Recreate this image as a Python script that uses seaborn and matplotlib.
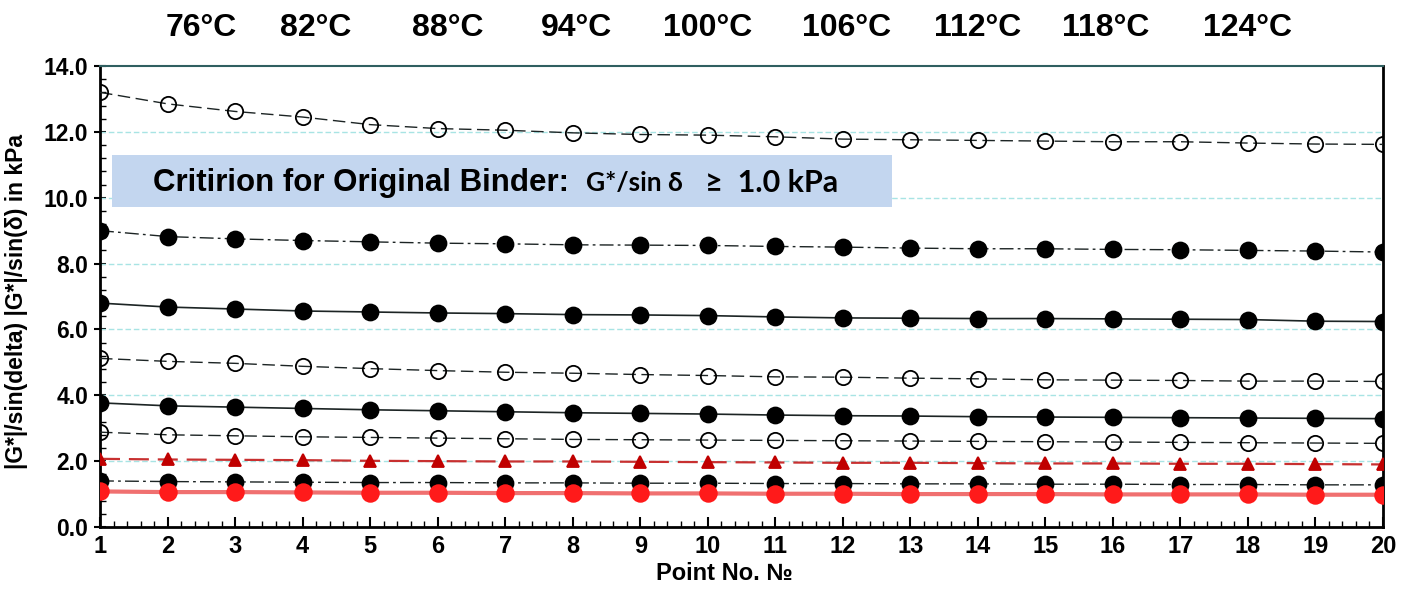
import matplotlib
matplotlib.use('Agg')
import matplotlib.pyplot as plt
from matplotlib.patches import Rectangle
from matplotlib.ticker import MultipleLocator, FormatStrFormatter
import numpy as np
import pandas as pd
import seaborn as sns

# data
points = list(range(1, 21))
s1 = [13.2, 12.85, 12.62, 12.45, 12.22, 12.1, 12.05, 11.97, 11.92, 11.9,
      11.85, 11.78, 11.76, 11.74, 11.72, 11.7, 11.7, 11.66, 11.63, 11.62]
s2 = [9.0, 8.82, 8.75, 8.7, 8.66, 8.62, 8.6, 8.57, 8.56, 8.55,
      8.52, 8.5, 8.47, 8.45, 8.45, 8.43, 8.42, 8.4, 8.38, 8.35]
s3 = [6.8, 6.68, 6.62, 6.56, 6.53, 6.5, 6.48, 6.45, 6.44, 6.42,
      6.38, 6.35, 6.34, 6.33, 6.33, 6.32, 6.31, 6.3, 6.25, 6.24]
s4 = [5.12, 5.03, 4.97, 4.88, 4.81, 4.75, 4.7, 4.67, 4.63, 4.6,
      4.56, 4.55, 4.52, 4.5, 4.47, 4.46, 4.45, 4.43, 4.43, 4.42]
s5 = [3.77, 3.68, 3.64, 3.6, 3.56, 3.53, 3.5, 3.47, 3.45, 3.43,
      3.4, 3.38, 3.37, 3.35, 3.34, 3.33, 3.32, 3.31, 3.3, 3.29]
s6 = [2.88, 2.8, 2.77, 2.74, 2.72, 2.7, 2.68, 2.66, 2.65, 2.64,
      2.63, 2.62, 2.61, 2.6, 2.59, 2.58, 2.57, 2.56, 2.55, 2.54]
s7 = [2.07, 2.05, 2.04, 2.03, 2.01, 2.0, 1.99, 1.99, 1.98, 1.97,
      1.96, 1.95, 1.95, 1.94, 1.93, 1.93, 1.92, 1.92, 1.91, 1.9]
s8 = [1.4, 1.38, 1.37, 1.36, 1.35, 1.35, 1.34, 1.34, 1.33, 1.33,
      1.32, 1.32, 1.31, 1.31, 1.3, 1.3, 1.29, 1.29, 1.28, 1.28]
s9 = [1.08, 1.06, 1.06, 1.05, 1.04, 1.04, 1.03, 1.03, 1.02, 1.02,
      1.01, 1.01, 1.0, 1.0, 1.0, 0.99, 0.99, 0.99, 0.98, 0.98]

temps = ['76°C', '82°C', '88°C', '94°C', '100°C', '106°C', '112°C', '118°C', '124°C']
temp_pos = [2.5, 4.2, 6.15, 8.05, 10.0, 12.05, 14.0, 15.9, 18.0]

sns.set_style('ticks')
plt.rcParams['font.family'] = ['Liberation Sans', 'DejaVu Sans']
plt.rcParams['font.weight'] = 'bold'
for key in ['text.color', 'axes.labelcolor', 'xtick.color', 'ytick.color']:
    plt.rcParams[key] = 'black'

fig = plt.figure(figsize=(14.09, 5.97), dpi=100)
ax = fig.add_axes([100 / 1409, 70 / 597, 1283 / 1409, 461 / 597])

dash = (0, (9, 4))
dashdot = (0, (10, 3, 2, 3))
# (values, marker, facecolor, line colour, linestyle, line width, marker size)
styles = [
    (s1, 'o', 'none', '#1c2424', dash, 1.0, 11),
    (s2, 'o', 'black', '#1c2424', dashdot, 1.0, 11.5),
    (s3, 'o', 'black', '#1c2424', '-', 1.2, 11.5),
    (s4, 'o', 'none', '#1c2424', dash, 1.0, 11),
    (s5, 'o', 'black', '#1c2424', '-', 1.2, 11.5),
    (s6, 'o', 'none', '#1c2424', dash, 1.0, 11),
    (s7, '^', '#c00000', '#c83030', dash, 1.6, 9),
    (s8, 'o', 'black', '#1c2424', dashdot, 1.0, 11.5),
    (s9, 'o', '#ff1a1a', '#f07070', '-', 3.0, 12),
]

for vals, mk, fc, lc, ls, lw, ms in styles:
    df = pd.DataFrame({'point': points, 'value': vals})
    ec = fc if mk == '^' or fc == '#ff1a1a' else 'black'
    sns.lineplot(data=df, x='point', y='value', ax=ax, color=lc, linestyle=ls,
                 linewidth=lw, marker=mk, markersize=ms, markerfacecolor=fc,
                 markeredgecolor=ec, markeredgewidth=1.3, zorder=3)

ax.set_xlim(1, 20)
ax.set_ylim(0, 14)
ax.xaxis.set_major_locator(MultipleLocator(1))
ax.xaxis.set_minor_locator(MultipleLocator(0.2))
ax.yaxis.set_major_locator(MultipleLocator(2))
ax.yaxis.set_minor_locator(MultipleLocator(0.4))
ax.yaxis.set_major_formatter(FormatStrFormatter('%.1f'))

for y in np.arange(2, 14, 2):
    ax.axhline(y, color='#a8e4e4', linestyle=(0, (4, 2)), linewidth=1.0, zorder=1)

ax.tick_params(axis='x', which='major', direction='in', length=7, width=1.5,
               labelsize=17, pad=6)
ax.tick_params(axis='x', which='minor', direction='in', length=4, width=1.0)
ax.tick_params(axis='y', which='major', direction='inout', length=9, width=1.5,
               labelsize=16.5, pad=4)
ax.tick_params(axis='y', which='minor', direction='in', length=4, width=1.0)
for lab in ax.get_xticklabels() + ax.get_yticklabels():
    lab.set_fontweight('bold')

for side in ['left', 'bottom', 'right']:
    ax.spines[side].set_color('black')
    ax.spines[side].set_linewidth(2.0)
ax.spines['top'].set_color('#2f5f60')
ax.spines['top'].set_linewidth(1.5)

ax.set_xlabel('Point No. №', fontsize=17, fontweight='bold')
ax.set_ylabel('|G*|/sin(delta) |G*|/sin(δ) in kPa', fontsize=16.5, fontweight='bold')
ax.xaxis.set_label_coords(0.487, -0.076)
ax.yaxis.set_label_coords(-0.056, 0.49)

# criterion box
ax.add_patch(Rectangle((1.18, 9.72), 11.55, 1.58, facecolor='#c3d6ef',
                       edgecolor='none', zorder=2))
t1 = ax.text(1.785, 10.45, 'Critirion for Original Binder:  ', fontsize=22.5,
             fontweight='bold', va='center', ha='left', zorder=4)
t2 = ax.annotate('G*/sin δ', xy=(1, 0.5), xycoords=t1, va='center',
                 ha='left', fontsize=19, fontweight='bold',
                 family=['Lato', 'DejaVu Sans'], zorder=4)
ax.annotate('   ≥  1.0 kPa', xy=(1, 0.5), xycoords=t2, va='center',
            ha='left', fontsize=22, fontweight='bold',
            family=['Lato', 'DejaVu Sans'], zorder=4)

trans = ax.get_xaxis_transform()
for lab, xp in zip(temps, temp_pos):
    ax.text(xp, 1.082, lab, transform=trans, ha='center', va='center',
            fontsize=23, fontweight='bold')

fig.savefig('out.png', dpi=100)
